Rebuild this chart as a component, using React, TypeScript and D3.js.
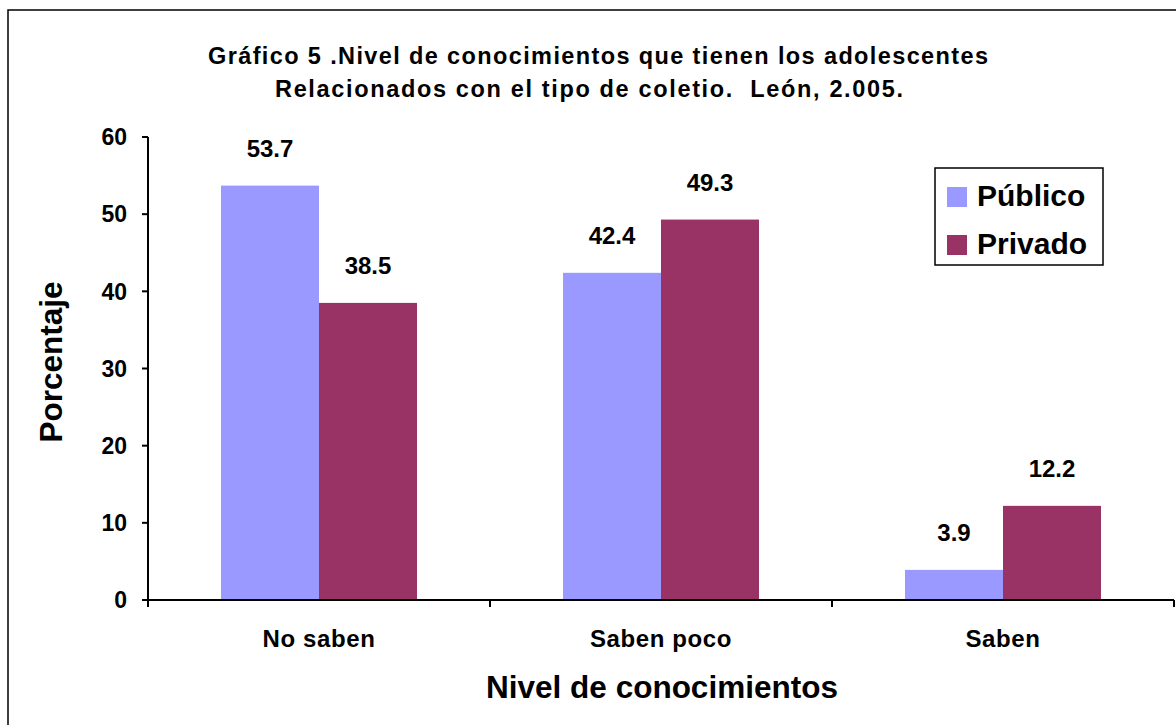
import React from "react";
import * as d3 from "d3";

// Knowledge level of adolescents by school type (León, 2005)
const categories = ["No saben", "Saben poco", "Saben"];
const seriesNames = ["Público", "Privado"];
const publico = [53.7, 42.4, 3.9];
const privado = [38.5, 49.3, 12.2];
const yTicks = [0, 10, 20, 30, 40, 50, 60];
const titleLines = [
  "Gráfico 5 .Nivel de conocimientos que tienen los adolescentes",
  "Relacionados con el tipo de coletio.  León, 2.005.",
];
const xAxisTitle = "Nivel de conocimientos";
const yAxisTitle = "Porcentaje";

const seriesValues = [publico, privado];
const colors = ["#9999FF", "#993366"];

const W = 1176;
const H = 725;
const FONT = "'Liberation Sans', Arial, Helvetica, sans-serif";

export default function App() {
  const left = 148;
  const right = 1174;
  const top = 137;
  const bottom = 600;

  const x0 = d3.scaleBand<string>().domain(categories).range([left, right]).padding(0);
  const x1 = d3
    .scaleBand<string>()
    .domain(seriesNames)
    .range([0, x0.bandwidth()])
    .paddingInner(0)
    .paddingOuter(0.745);
  const y = d3.scaleLinear().domain([0, 60]).range([bottom, top]);

  const catEdges = [...categories.map((c) => x0(c) as number), right];

  return (
    <svg
      width={W}
      height={H}
      style={{ position: "absolute", left: 0, top: 0, background: "#fff" }}
      fontFamily={FONT}
      fontWeight="bold"
    >
      <rect x={0} y={0} width={W} height={H} fill="#fff" />
      {/* outer chart frame */}
      <rect x={8} y={10} width={W + 50} height={H + 50} fill="none" stroke="#000" strokeWidth={1.5} />

      {/* title */}
      <text
        x={208}
        y={64}
        fontSize={23.5}
        fill="#000"
        textLength={780}
        lengthAdjust="spacing"
        style={{ whiteSpace: "pre" }}
      >
        {titleLines[0]}
      </text>
      <text
        x={275}
        y={97}
        fontSize={23.5}
        fill="#000"
        textLength={628}
        lengthAdjust="spacing"
        style={{ whiteSpace: "pre" }}
      >
        {titleLines[1]}
      </text>

      {/* bars */}
      {categories.map((c, ci) =>
        seriesNames.map((s, si) => {
          const v = seriesValues[si][ci];
          const bx = (x0(c) as number) + (x1(s) as number);
          return (
            <rect
              key={c + s}
              x={bx}
              y={y(v)}
              width={x1.bandwidth()}
              height={bottom - y(v)}
              fill={colors[si]}
            />
          );
        })
      )}

      {/* value labels */}
      {categories.map((c, ci) =>
        seriesNames.map((s, si) => {
          const v = seriesValues[si][ci];
          const cx = (x0(c) as number) + (x1(s) as number) + x1.bandwidth() / 2;
          return (
            <text key={"l" + c + s} x={cx} y={y(v) - 29} textAnchor="middle" fontSize={24} fill="#000">
              {v.toFixed(1)}
            </text>
          );
        })
      )}

      {/* y axis */}
      <line x1={left} x2={left} y1={top} y2={bottom} stroke="#000" strokeWidth={2} />
      {yTicks.map((t) => (
        <g key={t}>
          <line x1={left - 6} x2={left} y1={y(t)} y2={y(t)} stroke="#000" strokeWidth={2} />
          <text x={127} y={y(t)} dy="0.36em" textAnchor="end" fontSize={23} fill="#000">
            {t}
          </text>
        </g>
      ))}

      {/* x axis */}
      <line x1={left} x2={right} y1={bottom} y2={bottom} stroke="#000" strokeWidth={2} />
      {catEdges.map((ex, i) => (
        <line key={i} x1={ex} x2={ex} y1={bottom} y2={bottom + 7} stroke="#000" strokeWidth={2} />
      ))}
      {categories.map((c) => (
        <text
          key={c}
          x={(x0(c) as number) + x0.bandwidth() / 2}
          y={647}
          textAnchor="middle"
          fontSize={24}
          letterSpacing={0.6}
          fill="#000"
        >
          {c}
        </text>
      ))}

      {/* axis titles */}
      <text x={662} y={698} textAnchor="middle" fontSize={31.5} fill="#000">
        {xAxisTitle}
      </text>
      <text
        transform={`translate(62,362) rotate(-90)`}
        textAnchor="middle"
        fontSize={31.5}
        fill="#000"
      >
        {yAxisTitle}
      </text>

      {/* legend */}
      <rect x={935} y={168} width={168} height={97} fill="#fff" stroke="#000" strokeWidth={1.5} />
      {seriesNames.map((s, i) => (
        <g key={s} transform={`translate(947, ${187 + i * 48})`}>
          <rect x={0} y={0} width={20} height={20} fill={colors[i]} />
          <text x={30} y={19} fontSize={30} fill="#000">
            {s}
          </text>
        </g>
      ))}
    </svg>
  );
}
